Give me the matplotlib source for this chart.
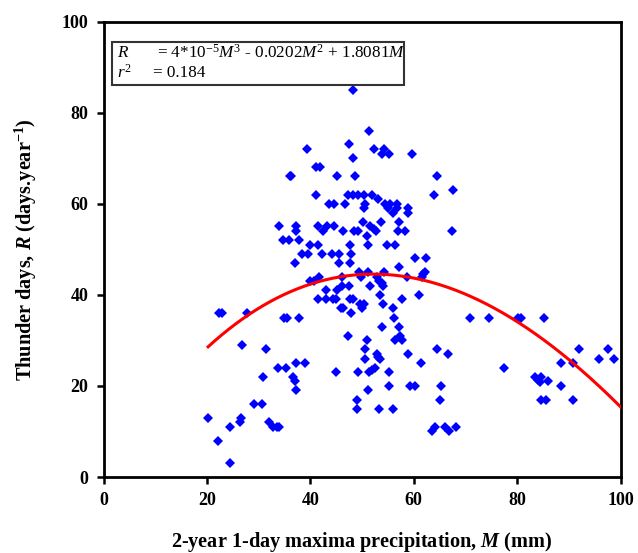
import matplotlib
matplotlib.use("Agg")
import matplotlib.pyplot as plt
import numpy as np
from matplotlib.patches import Rectangle

plt.rcParams['font.family'] = ['Liberation Serif', 'DejaVu Serif']
plt.rcParams['mathtext.fontset'] = 'custom'
plt.rcParams['mathtext.rm'] = 'Liberation Serif'
plt.rcParams['mathtext.it'] = 'Liberation Serif:italic'
plt.rcParams['mathtext.bf'] = 'Liberation Serif:bold'
plt.rcParams['mathtext.bfit'] = 'Liberation Serif:italic:bold'

# Observed points: 2-year 1-day maxima precipitation M (mm), thunder days R
M_obs = [
    20.2, 22.1, 22.3, 22.8, 24.4, 24.5, 26.7, 26.5, 26.4, 27.8, 29.1, 30.6, 30.8, 31.5, 31.9, 32.7, 33.5, 33.9, 33.7, 33.9,
    48.2, 51.3, 39.4, 47.5, 52.3, 54.2, 53.8, 55.3, 59.6, 48.2, 41.0, 41.9, 36.0, 36.3, 45.2, 48.7, 64.4, 67.6, 64.0, 41.1,
    47.3, 48.3, 49.3, 50.3, 51.9, 53.0, 43.5, 44.6, 46.6, 50.6, 50.4, 54.4, 55.4, 56.8, 55.1, 56.8, 55.9, 58.9, 58.8, 50.1,
    53.6, 57.1, 51.6, 52.3, 52.7, 51.0, 37.3, 37.3, 41.4, 43.2, 44.6, 42.5, 46.4, 48.4, 49.3, 57.0, 58.3, 67.4, 34.7, 35.9,
    37.7, 39.9, 41.4, 47.7, 51.2, 54.9, 56.4,
    37.0, 38.3, 39.6, 42.2, 44.1, 45.5, 47.8, 45.5, 47.7, 60.2, 62.4, 57.2, 49.4, 51.1, 49.8, 54.2, 52.9, 53.3, 53.8, 54.1,
    58.6, 62.2, 61.8, 61.5, 41.7, 40.0, 40.6, 46.2, 46.2, 47.5, 51.5, 43.0, 45.2, 53.5, 61.1, 41.5, 43.0, 44.4, 45.0, 47.7,
    48.2, 57.7, 49.6, 50.4, 54.1, 46.0, 46.4, 49.9, 55.9, 47.9, 56.2, 34.8, 35.4, 37.7, 70.9, 74.6, 80.2, 80.7, 85.1, 53.9,
    57.2, 57.4, 47.3, 51.0, 56.4, 57.7, 50.6, 52.8, 53.1, 53.5, 50.6, 58.8, 64.4, 66.7, 61.4, 37.3, 38.9, 35.3, 36.6, 37.0,
    37.3, 44.9, 49.3, 51.3, 52.0, 52.5, 55.3, 51.1, 55.2, 59.3, 60.3, 65.2, 65.1, 49.0, 49.1, 53.2, 56.0, 63.5, 64.2, 66.0,
    66.8, 68.1, 77.5, 83.5, 84.1, 84.6, 84.4, 86.0, 84.6, 85.6, 88.4, 88.4, 90.9, 90.9, 92.0, 95.9, 97.6, 98.7,
]
R_obs = [
    13, 8, 36, 36, 11, 3, 29, 13, 12, 36, 16, 16, 22, 28, 12, 11, 11, 11, 24, 55,
    85, 76, 72, 73, 72, 72, 71, 71, 71, 70, 68, 68, 66, 66, 66, 66, 66, 63, 62, 62,
    62, 62, 62, 62, 62, 61, 60, 60, 60, 60, 59, 60, 60, 60, 59, 59, 58, 59, 58, 56,
    56, 56, 55, 54.5, 54, 53, 55, 54, 55, 55, 55, 54, 54, 54, 54, 54, 54, 54, 52, 52,
    52, 51, 51, 51, 51, 51, 51,
    47, 49, 49, 49, 49, 49, 49, 47, 47, 48, 48, 46, 45, 45, 44, 45, 44, 43, 42.5, 42,
    44, 45, 44.5, 44, 44, 43, 43, 44, 42, 42, 42, 41, 41, 40, 40, 39, 39, 39, 39, 39,
    39, 39, 38, 38, 38, 37, 37, 37, 37, 36, 35, 35, 35, 35, 35, 35, 35, 35, 35, 33,
    33, 31, 31, 30, 30, 30, 28, 27, 26.4, 26, 26, 27, 28, 27, 25, 25, 25, 24, 22, 21,
    19, 23, 23, 23, 23.5, 24, 23, 19, 20, 20, 20, 20, 17, 17, 15, 15, 15, 10, 11, 11,
    10, 11, 24, 22, 21.3, 22, 20.9, 21, 17, 17, 20, 25, 25, 17, 28, 26, 28, 26,
]

# Cubic trend line R = a*M^3 + b*M^2 + c*M (as drawn in the figure)
coef_a = 3.66e-5
coef_b = -0.0202
coef_c = 1.8081
M_fit_range = [20.2, 100]

x_ticks = [0, 20, 40, 60, 80, 100]
y_ticks = [0, 20, 40, 60, 80, 100]

fig = plt.figure(figsize=(6.38, 5.53), dpi=100)
ax = fig.add_axes([0.1625, 0.1374, 0.8101, 0.8237])

ax.plot(M_obs, R_obs, linestyle='none', marker='D', markersize=4.6,
        color='#0000FF', markeredgewidth=0, zorder=3)

Mf = np.linspace(M_fit_range[0], M_fit_range[1], 300)
Rf = coef_a * Mf**3 + coef_b * Mf**2 + coef_c * Mf
ax.plot(Mf, Rf, color='#FF0000', linewidth=2.2, zorder=4)

ax.set_xlim(0, 100)
ax.set_ylim(0, 100)
ax.set_xticks(x_ticks)
ax.set_yticks(y_ticks)
ax.set_xticklabels([str(v) for v in x_ticks], fontweight='bold', fontsize=13)
ax.set_yticklabels([str(v) for v in y_ticks], fontweight='bold', fontsize=13)
ax.tick_params(direction='out', length=5, width=1.8, pad=6)
for s in ax.spines.values():
    s.set_linewidth(2.0)

ax.set_xlabel(r'2-year 1-day maxima precipitation, $\mathbfit{M}$ (mm)',
              fontweight='bold', fontsize=14.6, labelpad=15)
ax.set_ylabel(r'Thunder days, $\mathbfit{R}$ (days.year$^{\mathbf{-1}}$)',
              fontweight='bold', fontsize=14.6, labelpad=16)

# Equation box
ax.add_patch(Rectangle((0.0155, 0.860), 0.5655, 0.094, transform=ax.transAxes,
                       fill=False, edgecolor='#333333', linewidth=1.5, zorder=5))
ax.text(0.025, 0.931, r'$R$', transform=ax.transAxes, fontsize=12.3, va='center', ha='left')
ax.text(0.103, 0.931, r'= 4*10$^{-5}$$M^{3}$ - 0.0202$M^{2}$ + 1.8081$M$',
        transform=ax.transAxes, fontsize=12.3, va='center', ha='left')
ax.text(0.025, 0.888, r'$r^{2}$', transform=ax.transAxes, fontsize=12.3, va='center', ha='left')
ax.text(0.095, 0.888, '= 0.184', transform=ax.transAxes, fontsize=12.3, va='center', ha='left')

fig.savefig('out.png', dpi=100)
